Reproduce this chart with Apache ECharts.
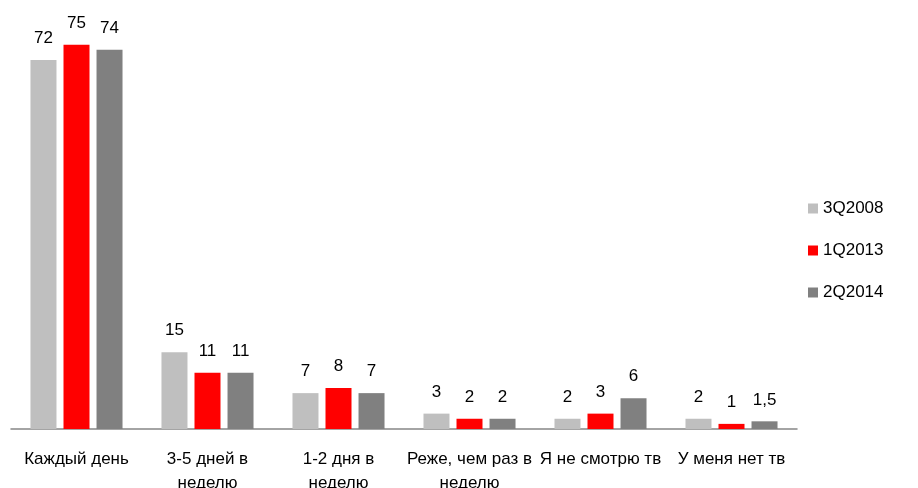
<!DOCTYPE html>
<html>
<head>
<meta charset="utf-8">
<script src="https://cdn.jsdelivr.net/npm/echarts@6/dist/echarts.min.js"></script>
<style>
	html, body { margin: 0; padding: 0; background: #fff; }
	#chart { width: 918px; height: 488px; }
</style>
</head>
<body>
<div id="chart"></div>
<script>
// данные
const categories = ["Каждый день", "3-5 дней в\nнеделю", "1-2 дня в\nнеделю", "Реже, чем раз в\nнеделю", "Я не смотрю тв", "У меня нет тв"];
const seriesNames = ["3Q2008", "1Q2013", "2Q2014"];
const s2008 = [72, 15, 7, 3, 2, 2];
const s2013 = [75, 11, 8, 2, 3, 1];
const s2014 = [74, 11, 7, 2, 6, 1.5];
const colors = ["#BFBFBF", "#FF0000", "#808080"];

const font = "'Liberation Sans', Arial, sans-serif";
const chart = echarts.init(document.getElementById("chart"));

function makeSeries(name, data, color) {
	return {
		name: name,
		type: "bar",
		data: data,
		barWidth: 26,
		barGap: "27%",
		itemStyle: { color: color },
		label: {
			show: true,
			position: "top",
			distance: 13,
			color: "#000",
			fontSize: 17,
			fontFamily: font,
			formatter: function (p) {
				return String(p.value).replace(".", ","); // десятичная запятая
			},
		},
	};
}

const option = {
	animation: false,
	textStyle: { fontFamily: font },
	grid: {
		left: 11,
		right: 121,
		top: 19,
		bottom: 59,
		outerBoundsMode: "none",
	},
	legend: {
		orient: "vertical",
		left: 803,
		top: 195,
		itemWidth: 10,
		itemHeight: 10,
		itemGap: 25,
		icon: "rect",
		textStyle: { color: "#000", fontSize: 17, fontFamily: font },
		data: seriesNames,
	},
	xAxis: {
		type: "category",
		data: categories,
		axisLine: { lineStyle: { color: "#868686", width: 1.5 } },
		axisTick: { show: false },
		axisLabel: {
			color: "#000",
			fontSize: 17,
			fontFamily: font,
			lineHeight: 24,
			margin: 18,
			interval: 0,
		},
	},
	yAxis: {
		type: "value",
		min: 0,
		max: 80,
		show: false,
		splitLine: { show: false },
	},
	series: [
		makeSeries(seriesNames[0], s2008, colors[0]),
		makeSeries(seriesNames[1], s2013, colors[1]),
		makeSeries(seriesNames[2], s2014, colors[2]),
	],
};
chart.setOption(option);
</script>
</body>
</html>
